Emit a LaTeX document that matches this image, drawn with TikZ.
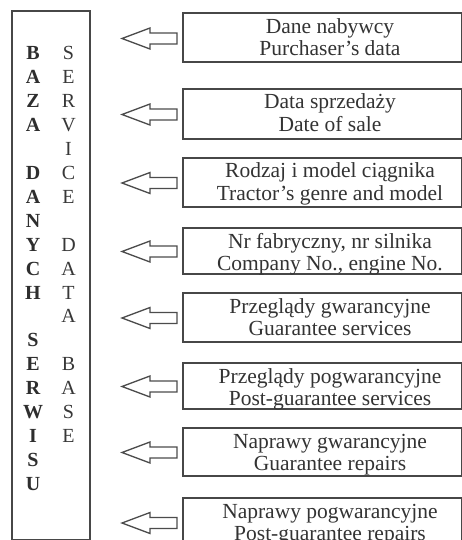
\documentclass[tikz,border=0pt]{standalone}
\usepackage{fontspec}
\setmainfont{Liberation Serif}
\begin{document}
\begin{tikzpicture}[x=1pt,y=-1pt,
  frame/.style={draw=black!72, line width=1.8pt, inner sep=0pt, anchor=north west},
  blet/.style={anchor=base, inner sep=0pt, text=black!82, font=\fontsize{20}{22}\selectfont\bfseries},
  rlet/.style={anchor=base, inner sep=0pt, text=black!78, font=\fontsize{20}{22}\selectfont},
  line/.style={anchor=base, inner sep=0pt, text=black!80, font=\fontsize{21.5}{24}\selectfont},
  hollowarrow/.style={draw=black!70, line width=1.3pt, line join=miter, fill=white}
]
\useasboundingbox (0,0) rectangle (462,540);
\clip (0,0) rectangle (462,540);
\fill[white] (0,0) rectangle (462,540);

% database column
\node[frame, minimum width=78pt, minimum height=528pt] (db) at (11,10.5) {};
\foreach \l [count=\i from 0] in {B,A,Z,A,{},D,A,N,Y,C,H,{},S,E,R,W,I,S,U}
  \node[blet] (bl\i) at (33, 60+\i*23.9) {\l};
\foreach \l [count=\i from 0] in {S,E,R,V,I,C,E,{},D,A,T,A,{},B,A,S,E}
  \node[rlet] (rl\i) at (68.5, 60+\i*23.9) {\l};

% data boxes with arrows
\foreach \t/\b/\la/\lb [count=\i] in {
  12.5/61.5/{Dane nabywcy}/{Purchaser's data},
  88/138/{Data sprzedaży}/{Date of sale},
  157/206/{Rodzaj i model ciągnika}/{Tractor's genre and model},
  227/273/{Nr fabryczny, nr silnika}/{Company No., engine No.},
  292/341/{Przeglądy gwarancyjne}/{Guarantee services},
  362/408/{Przeglądy pogwarancyjne}/{Post-guarantee services},
  427/475/{Naprawy gwarancyjne}/{Guarantee repairs},
  497/546/{Naprawy pogwarancyjne}/{Post-guarantee repairs}}
{
  \pgfmathsetmacro{\h}{\b-\t}
  \pgfmathsetmacro{\m}{(\t+\b)/2+1.5}
  \node[frame, line width=1.6pt, minimum width=279pt, minimum height=\h pt] (box\i) at (182,\t) {};
  \node[line] (ta\i) at (330, \t+21) {\la};
  \node[line] (tb\i) at (330, \t+43.5) {\lb};
  \coordinate (ar\i) at (177, \m);
  \draw[hollowarrow] (ar\i) ++(0,-5.5) -- ++(-27,0) -- ++(0,-5) -- ++(-28,10.5)
     -- ++(28,10.5) -- ++(0,-5) -- ++(27,0) -- cycle;
}
\end{tikzpicture}
\end{document}
